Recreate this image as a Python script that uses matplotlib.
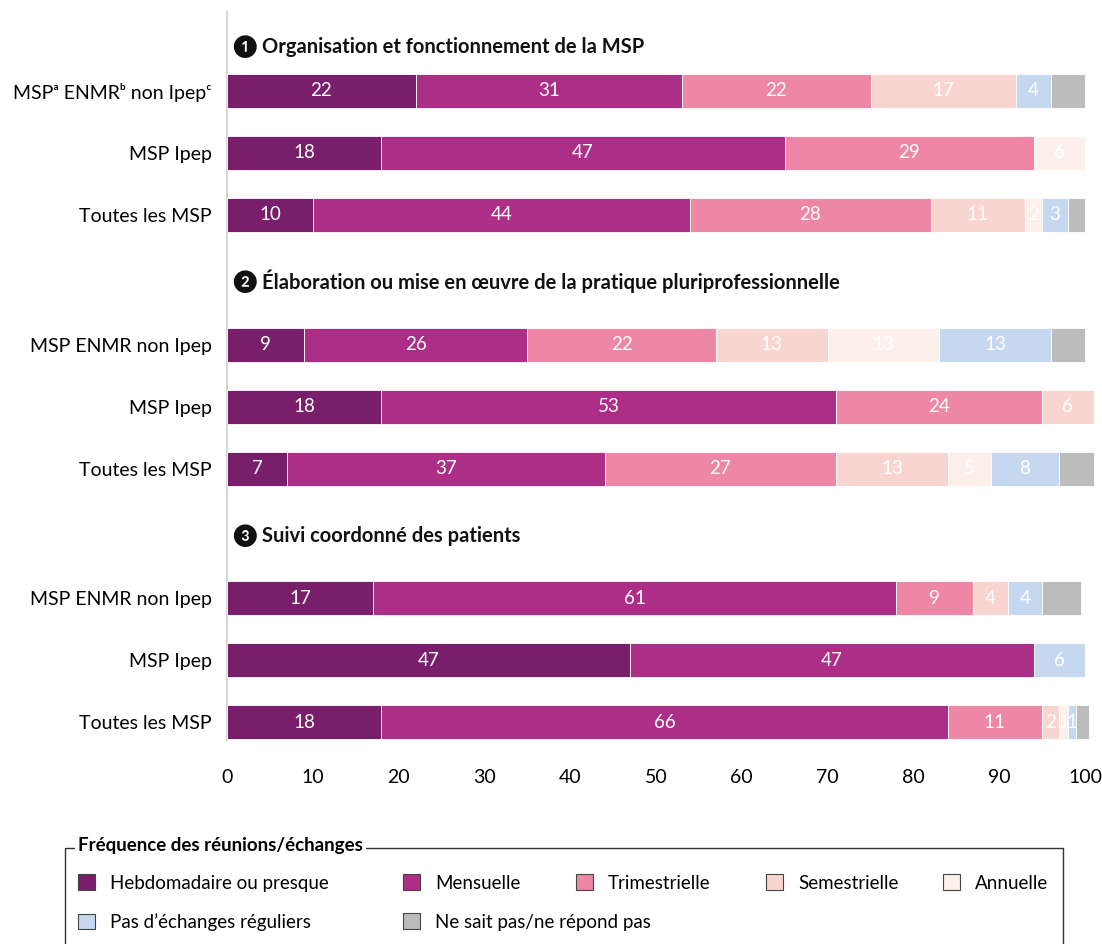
import matplotlib.pyplot as plt
from matplotlib.patches import Patch, Rectangle

plt.rcParams['font.family'] = ['Lato', 'DejaVu Sans']

# frequence categories and colours
categories = ["Hebdomadaire ou presque", "Mensuelle", "Trimestrielle", "Semestrielle",
              "Annuelle", "Pas d\u2019échanges réguliers", "Ne sait pas/ne répond pas"]
colors = ["#781e6a", "#ac2e87", "#ee86a6", "#f9d5d1", "#fdefea", "#c6d8ef", "#bbbcbb"]

bullets = ["\u2776", "\u2777", "\u2778"]
group_titles = ["Organisation et fonctionnement de la MSP",
                "Élaboration ou mise en \u0153uvre de la pratique pluriprofessionnelle",
                "Suivi coordonné des patients"]
bar_labels = [["MSP\u1d43 ENMR\u1d47 non Ipep\u1d9c", "MSP Ipep", "Toutes les MSP"],
              ["MSP ENMR non Ipep", "MSP Ipep", "Toutes les MSP"],
              ["MSP ENMR non Ipep", "MSP Ipep", "Toutes les MSP"]]

# values (%) per bar, in category order
g1_enmr = [22, 31, 22, 17, 0, 4, 4]
g1_ipep = [18, 47, 29, 0, 6, 0, 0]
g1_all = [10, 44, 28, 11, 2, 3, 2]
g2_enmr = [9, 26, 22, 13, 13, 13, 4]
g2_ipep = [18, 53, 24, 6, 0, 0, 0]
g2_all = [7, 37, 27, 13, 5, 8, 4]
g3_enmr = [17, 61, 9, 4, 0, 4, 4.5]
g3_ipep = [47, 47, 0, 0, 0, 6, 0]
g3_all = [18, 66, 11, 2, 1, 1, 1.5]
groups = [[g1_enmr, g1_ipep, g1_all], [g2_enmr, g2_ipep, g2_all], [g3_enmr, g3_ipep, g3_all]]

fig = plt.figure(figsize=(11.02, 9.44), dpi=100)
ax = fig.add_axes([227 / 1102, 1 - 740 / 944, (1085 - 227) / 1102, (740 - 12) / 944])

group_step = 4.09
title_off = [0.71, 1.02, 1.0]
ytick_pos = []
ytick_lab = []
for g in range(3):
    for i in range(3):
        y = g * group_step + i
        vals = groups[g][i]
        left = 0
        for k, v in enumerate(vals):
            if v <= 0:
                continue
            ax.barh(y, v, left=left, height=0.55, color=colors[k], edgecolor='white',
                    linewidth=0.6, clip_on=False, zorder=3)
            if k < 6:
                ax.text(left + v / 2, y, str(int(v)), ha='center', va='center',
                        color='white', fontsize=13.5, zorder=4)
            left += v
        ytick_pos.append(y)
        ytick_lab.append(bar_labels[g][i])
    ty = g * group_step - title_off[g]
    ax.text(0.65, ty, bullets[g], ha='left', va='center', fontsize=16, color='#111111')
    ax.text(4.05, ty, group_titles[g], ha='left', va='center',
            fontsize=14.5, fontweight='bold', color='#111111')

ax.set_xlim(0, 100)
ax.set_ylim(10.468, -1.274)
ax.set_yticks(ytick_pos)
ax.set_yticklabels(ytick_lab, fontsize=14)
ax.set_xticks(range(0, 101, 10))
ax.tick_params(axis='x', length=0, labelsize=14, pad=21)
ax.tick_params(axis='y', length=0, pad=11)
for s in ['top', 'right', 'bottom']:
    ax.spines[s].set_visible(False)
ax.spines['left'].set_color('#d6d6d6')
ax.spines['left'].set_linewidth(1.5)

# legend: one entry per slot, positions in pixels
leg_x = [78, 403, 576, 766, 943, 78, 403]
leg_y = [883, 883, 883, 883, 883, 922, 922]
for k in range(len(categories)):
    h = Patch(facecolor=colors[k], edgecolor='#444444', linewidth=0.8)
    lg = fig.legend([h], [categories[k]], frameon=False, loc='center left',
                    bbox_to_anchor=(leg_x[k] / 1102, 1 - leg_y[k] / 944),
                    bbox_transform=fig.transFigure, borderpad=0, borderaxespad=0,
                    fontsize=13.5, handlelength=0.9, handleheight=0.9, handletextpad=0.8)
fig.patches.append(Rectangle((65 / 1102, -0.05), (1063 - 65) / 1102, 1 - 848 / 944 + 0.05,
                             transform=fig.transFigure, fill=False, edgecolor='#333333',
                             linewidth=1))
fig.text(78 / 1102, 1 - 845 / 944, "Fréquence des réunions/échanges", fontsize=13.5,
         fontweight='bold', ha='left', va='center',
         bbox=dict(facecolor='white', edgecolor='none', pad=2))

fig.savefig('out.png', dpi=100)
